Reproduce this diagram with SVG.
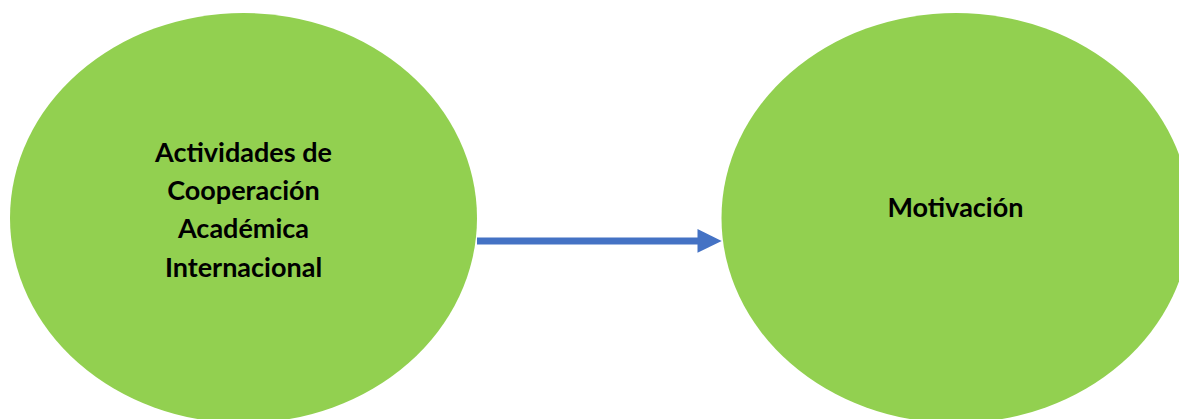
<svg xmlns="http://www.w3.org/2000/svg" width="1179" height="419" viewBox="0 0 1179 419">
  <style>
    .node { fill: #92D050; stroke: none; }
    .label { font-family: Lato, "Open Sans", sans-serif; font-weight: bold; font-size: 27px; fill: #000; text-anchor: middle; }
    .conn { stroke: #4472C4; stroke-width: 7; fill: none; }
    .head { fill: #4472C4; }
  </style>
  <rect width="1179" height="419" fill="#ffffff"/>
  <g id="node-actividades">
    <ellipse class="node" cx="243.5" cy="218" rx="233.5" ry="205"/>
    <text class="label" x="243.5" y="161.7">Actividades de</text>
    <text class="label" x="243.5" y="200">Cooperación</text>
    <text class="label" x="243.5" y="238.3">Académica</text>
    <text class="label" x="243.5" y="276.5">Internacional</text>
  </g>
  <g id="node-motivacion">
    <ellipse class="node" cx="956" cy="218" rx="234.5" ry="205"/>
    <text class="label" x="955.5" y="216.7">Motivación</text>
  </g>
  <g id="connectors">
    <line class="conn" x1="477" y1="241" x2="699" y2="241"/>
    <polygon class="head" points="697.5,229 721.7,241 697.5,252.7"/>
  </g>
</svg>
